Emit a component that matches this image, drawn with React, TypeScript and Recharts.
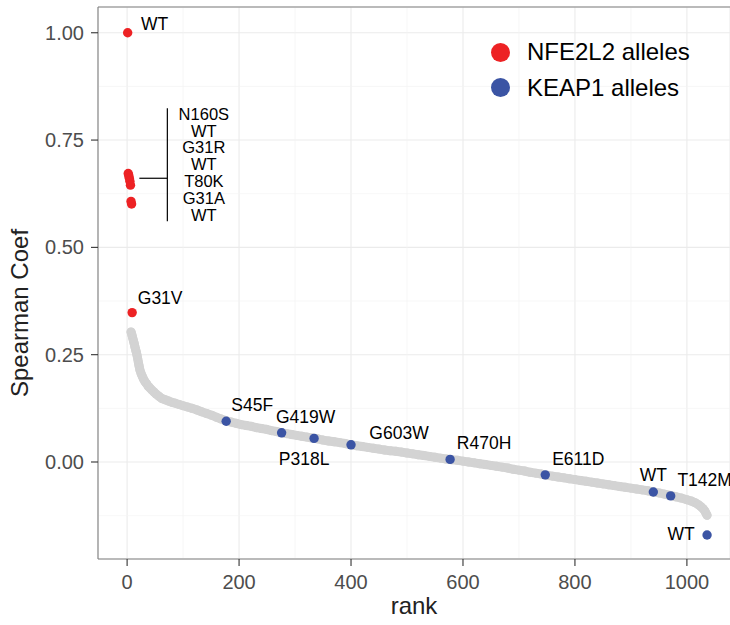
import React from 'react'
import { ScatterChart, Scatter, XAxis, YAxis, CartesianGrid, ReferenceLine, Legend, Label } from 'recharts'

const RED = '#ED2224'
const BLUE = '#3B54A4'
const GREY = '#D3D3D3'

const xTicks = [0, 200, 400, 600, 800, 1000]
const yTicks = [0, 0.25, 0.5, 0.75, 1]
const xMinor = [100, 300, 500, 700, 900]
const yMinor = [-0.125, 0.125, 0.375, 0.625, 0.875]
const xDomain = [-52, 1077]
const yDomain = [-0.226, 1.06]

// NFE2L2 alleles (red)
const nfeRank = [1, 2, 3, 4, 5, 6, 7, 8, 9]
const nfeCoef = [1.0, 0.672, 0.667, 0.661, 0.654, 0.645, 0.607, 0.601, 0.348]
const nfeAllele = ['WT', 'N160S', 'WT', 'G31R', 'WT', 'T80K', 'G31A', 'WT', 'G31V']

// KEAP1 alleles (blue)
const keapRank = [177, 276, 334, 400, 577, 747, 940, 971, 1036]
const keapCoef = [0.095, 0.068, 0.055, 0.04, 0.006, -0.03, -0.07, -0.079, -0.17]
const keapAllele = ['S45F', 'G419W', 'P318L', 'G603W', 'R470H', 'E611D', 'WT', 'T142M', 'WT']

// all other alleles, [rank, coef] read along the grey band
const otherAlleles: [number, number][] = [
  [7, 0.303], [8, 0.299], [9, 0.294], [10, 0.289], [11, 0.284], [12, 0.279], [13, 0.274], [14, 0.268],
  [15, 0.263], [16, 0.258], [17, 0.253], [18, 0.247], [19, 0.24], [20, 0.233], [21, 0.226], [22, 0.22],
  [23, 0.214], [25, 0.206], [27, 0.2], [29, 0.194], [32, 0.187], [35, 0.182], [38, 0.176], [41, 0.172],
  [44, 0.168], [48, 0.163], [52, 0.158], [57, 0.153], [62, 0.148], [68, 0.145], [74, 0.142], [80, 0.139],
  [86, 0.137], [93, 0.134], [100, 0.131], [108, 0.128], [116, 0.125], [125, 0.121], [133, 0.117],
  [142, 0.113], [151, 0.109], [160, 0.104], [168, 0.1], [177, 0.096], [186, 0.093], [195, 0.09],
  [204, 0.087], [213, 0.085], [222, 0.083], [231, 0.08], [240, 0.078], [249, 0.076], [258, 0.073],
  [267, 0.071], [276, 0.068], [285, 0.066], [294, 0.064], [303, 0.062], [312, 0.06], [321, 0.058],
  [330, 0.056], [340, 0.054], [350, 0.051], [360, 0.049], [370, 0.047], [380, 0.045], [390, 0.043],
  [400, 0.04], [410, 0.038], [420, 0.036], [430, 0.034], [440, 0.032], [450, 0.03], [460, 0.028],
  [470, 0.026], [480, 0.025], [490, 0.023], [500, 0.021], [510, 0.019], [520, 0.017], [530, 0.015],
  [540, 0.013], [550, 0.011], [560, 0.009], [570, 0.007], [580, 0.005], [590, 0.004], [600, 0.002],
  [610, 0.0], [620, -0.002], [630, -0.004], [640, -0.006], [650, -0.008], [660, -0.01], [670, -0.012],
  [680, -0.014], [690, -0.017], [700, -0.019], [710, -0.021], [720, -0.024], [730, -0.026],
  [740, -0.028], [750, -0.031], [760, -0.033], [770, -0.035], [780, -0.037], [790, -0.039],
  [800, -0.041], [810, -0.043], [820, -0.045], [830, -0.047], [840, -0.049], [850, -0.051],
  [860, -0.053], [870, -0.055], [880, -0.057], [890, -0.059], [900, -0.061], [910, -0.063],
  [920, -0.065], [930, -0.067], [940, -0.07], [950, -0.072], [960, -0.075], [970, -0.078],
  [980, -0.081], [990, -0.084], [1000, -0.088], [1008, -0.091], [1015, -0.095], [1020, -0.099],
  [1025, -0.104], [1029, -0.109], [1032, -0.114], [1034, -0.119], [1036, -0.124],
]

// label placement (px from point), null = no own label
const nfeNudge = [[27, -9], null, null, null, null, null, null, null, [28, -15]]
const keapNudge = [[26, -16], [24, -16], [-10, 21], [48, -12], [34, -16], [33, -16], [0, -17], [34, -16], [-26, -1]]
const CLUSTER_ANCHOR = 3 // G31R, the bracket hangs off this one
const clusterNames = nfeAllele.slice(1, 8)

const nfeData = nfeRank.map((rank, i) => ({ rank, coef: nfeCoef[i], allele: nfeAllele[i], i }))
const keapData = keapRank.map((rank, i) => ({ rank, coef: keapCoef[i], allele: keapAllele[i], i }))
const otherData = otherAlleles.map(([rank, coef]) => ({ rank, coef }))

const LABEL_SIZE = 17.5

function ClusterBracket({ cx, cy }: { cx: number; cy: number }) {
  const bx = cx + 38
  return (
    <g>
      <line x1={cx + 10} y1={cy} x2={bx} y2={cy} stroke="#000" strokeWidth={1.2} />
      <line x1={bx} y1={cy - 70} x2={bx} y2={cy + 43} stroke="#000" strokeWidth={1.2} />
      {clusterNames.map((n, k) => (
        <text key={k} x={cx + 74.5} y={cy - 64.5 + 16.8 * k} textAnchor="middle" dominantBaseline="central"
          fontSize={16.5} fill="#000">{n}</text>
      ))}
    </g>
  )
}

function allelePoint(color: string, nudges: (number[] | null)[], withCluster: boolean) {
  return (p: any) => {
    const { cx, cy, payload } = p
    const n = nudges[payload.i]
    return (
      <g>
        <circle cx={cx} cy={cy} r={4.7} fill={color} />
        {n && (
          <text x={cx + n[0]} y={cy + n[1]} textAnchor="middle" dominantBaseline="central"
            fontSize={LABEL_SIZE} fill="#000">{payload.allele}</text>
        )}
        {withCluster && payload.i === CLUSTER_ANCHOR && <ClusterBracket cx={cx} cy={cy} />}
      </g>
    )
  }
}

const legendOrder = ['NFE2L2 alleles', 'KEAP1 alleles']
const legendColors: Record<string, string> = { 'NFE2L2 alleles': RED, 'KEAP1 alleles': BLUE }

function renderLegend(props: any) {
  const shown = new Set((props.payload || []).map((e: any) => e.value))
  return (
    <div>
      {legendOrder.filter(v => shown.has(v)).map(v => (
        <div key={v} style={{ height: 35.4, display: 'flex', alignItems: 'center' }}>
          <span style={{ width: 19, height: 19, borderRadius: '50%', background: legendColors[v], marginRight: 17 }} />
          <span style={{ fontSize: 24, color: '#000', lineHeight: 1 }}>{v}</span>
        </div>
      ))}
    </div>
  )
}

export default function App() {
  return (
    <div style={{ position: 'absolute', left: 0, top: 0, fontFamily: '"Liberation Sans", Arial, sans-serif' }}>
      <ScatterChart width={730} height={625} margin={{ top: 7, right: 0, bottom: 0, left: 0 }}>
        <CartesianGrid stroke="#EBEBEB" strokeWidth={1.1} />
        {xMinor.map(v => <ReferenceLine key={'x' + v} x={v} stroke="#F3F3F3" strokeWidth={0.7} />)}
        {yMinor.map(v => <ReferenceLine key={'y' + v} y={v} stroke="#F3F3F3" strokeWidth={0.7} />)}
        <ReferenceLine y={yDomain[1]} stroke="#808080" strokeWidth={1.1} />
        <XAxis type="number" dataKey="rank" domain={xDomain} ticks={xTicks} allowDataOverflow height={66}
          tickSize={7} tickMargin={9} axisLine={{ stroke: '#808080', strokeWidth: 1.1 }}
          tickLine={{ stroke: '#333', strokeWidth: 1.1 }} tick={{ fill: '#4D4D4D', fontSize: 20 }}>
          <Label value="rank" position="insideBottom" offset={11} fill="#222" fontSize={24} />
        </XAxis>
        <YAxis type="number" dataKey="coef" domain={yDomain} ticks={yTicks} allowDataOverflow width={98}
          tickSize={7} tickMargin={7} axisLine={{ stroke: '#808080', strokeWidth: 1.1 }}
          tickLine={{ stroke: '#333', strokeWidth: 1.1 }} tick={{ fill: '#4D4D4D', fontSize: 20 }}
          tickFormatter={(v: number) => v.toFixed(2)}>
          <Label content={() => (
            <text x={28} y={313} transform="rotate(-90, 28, 313)" textAnchor="middle" fontSize={24} fill="#222">
              Spearman Coef
            </text>
          )} />
        </YAxis>
        <Legend layout="vertical" align="center" verticalAlign="middle" content={renderLegend}
          wrapperStyle={{ top: 34.6, left: 491, width: 'auto' }} />
        <Scatter name="other alleles" data={otherData} fill={GREY} legendType="none" isAnimationActive={false}
          line={{ stroke: GREY, strokeWidth: 9, strokeLinecap: 'round', strokeLinejoin: 'round' }}
          lineJointType="linear" shape={(p: any) => <circle cx={p.cx} cy={p.cy} r={4.5} fill={GREY} />} />
        <Scatter name="NFE2L2 alleles" data={nfeData} fill={RED} isAnimationActive={false}
          shape={allelePoint(RED, nfeNudge, true)} />
        <Scatter name="KEAP1 alleles" data={keapData} fill={BLUE} isAnimationActive={false}
          shape={allelePoint(BLUE, keapNudge, false)} />
      </ScatterChart>
    </div>
  )
}
